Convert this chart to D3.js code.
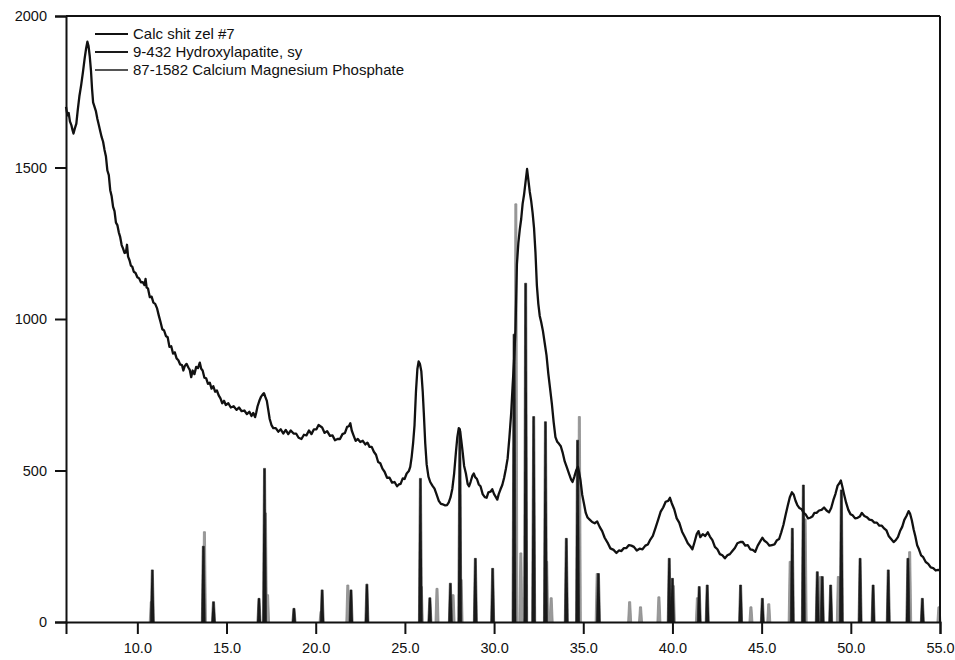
<!DOCTYPE html>
<html>
<head>
<meta charset="utf-8">
<script src="https://cdn.jsdelivr.net/npm/d3@7"></script>
<style>
  html, body { margin: 0; padding: 0; background: #fff; }
  svg { display: block; }
  text { font-family: "Liberation Sans", Arial, sans-serif; fill: #111; }
</style>
</head>
<body>
<svg id="chart" width="955" height="660"></svg>
<script>
// Measured powder pattern: [2-theta (deg), counts]
const scanPattern = [
  [6.00,1700],[6.08,1672],[6.15,1680],[6.22,1652],[6.30,1640],[6.36,1625],[6.42,1612],[6.50,1630],
  [6.58,1645],[6.66,1690],[6.75,1735],[6.85,1772],[6.95,1815],[7.05,1862],[7.12,1890],[7.20,1915],
  [7.26,1902],[7.33,1868],[7.40,1820],[7.46,1760],[7.52,1715],[7.60,1700],[7.68,1685],[7.76,1660],
  [7.84,1640],[7.92,1620],[8.00,1600],[8.08,1585],[8.16,1558],[8.24,1536],[8.32,1490],[8.40,1475],
  [8.48,1425],[8.56,1405],[8.64,1370],[8.72,1356],[8.80,1318],[8.88,1310],[8.96,1286],[9.04,1270],
  [9.12,1244],[9.20,1232],[9.28,1218],[9.36,1220],[9.42,1245],[9.48,1206],[9.56,1194],[9.64,1176],
  [9.72,1172],[9.80,1156],[9.90,1152],[10.00,1138],[10.10,1134],[10.20,1121],[10.30,1122],[10.40,1112],
  [10.46,1132],[10.52,1104],[10.60,1100],[10.70,1072],[10.80,1074],[10.90,1054],[11.00,1050],[11.10,1036],
  [11.20,1012],[11.30,990],[11.40,966],[11.50,962],[11.60,944],[11.70,940],[11.80,908],[11.90,910],
  [12.00,886],[12.10,890],[12.20,870],[12.30,864],[12.40,850],[12.50,848],[12.58,830],[12.66,845],
  [12.76,852],[12.86,840],[12.94,832],[13.02,808],[13.10,830],[13.20,818],[13.30,842],[13.40,838],
  [13.50,856],[13.58,836],[13.66,830],[13.76,806],[13.86,804],[13.96,786],[14.06,790],[14.16,770],
  [14.26,778],[14.36,760],[14.46,764],[14.56,748],[14.66,738],[14.76,722],[14.86,730],[14.96,716],
  [15.10,722],[15.24,708],[15.40,712],[15.56,700],[15.70,708],[15.84,696],[16.00,698],[16.14,686],
  [16.28,694],[16.40,680],[16.50,690],[16.60,676],[16.66,690],[16.74,712],[16.84,730],[16.94,744],
  [17.04,752],[17.10,755],[17.18,742],[17.26,730],[17.34,700],[17.42,670],[17.52,650],[17.62,640],
  [17.76,640],[17.90,628],[18.04,636],[18.18,622],[18.32,634],[18.46,620],[18.60,632],[18.76,622],
  [18.90,622],[19.04,608],[19.20,604],[19.34,618],[19.48,616],[19.62,632],[19.76,620],[19.90,636],
  [20.04,636],[20.16,650],[20.26,646],[20.36,642],[20.50,624],[20.64,630],[20.80,614],[20.94,616],
  [21.08,600],[21.22,604],[21.36,604],[21.50,620],[21.64,624],[21.76,644],[21.86,646],[21.94,656],
  [22.02,632],[22.12,616],[22.24,598],[22.36,604],[22.50,594],[22.64,598],[22.78,586],[22.90,592],
  [23.02,578],[23.14,578],[23.26,562],[23.38,552],[23.50,528],[23.62,524],[23.74,506],[23.86,496],
  [24.00,476],[24.14,476],[24.28,460],[24.42,462],[24.56,448],[24.66,454],[24.76,456],[24.88,474],
  [24.98,472],[25.10,490],[25.22,498],[25.30,512],[25.38,545],[25.46,590],[25.54,650],[25.62,760],
  [25.70,835],[25.77,860],[25.84,852],[25.92,828],[26.00,760],[26.06,690],[26.14,590],[26.22,520],
  [26.32,480],[26.42,462],[26.54,450],[26.66,440],[26.78,420],[26.90,400],[27.02,390],[27.14,388],
  [27.26,385],[27.36,386],[27.46,395],[27.56,412],[27.66,440],[27.76,490],[27.86,560],[27.94,610],
  [28.02,640],[28.08,636],[28.16,600],[28.24,560],[28.32,515],[28.42,490],[28.52,455],[28.60,448],
  [28.68,462],[28.78,482],[28.86,490],[28.94,478],[29.04,472],[29.14,454],[29.24,448],[29.36,422],
  [29.48,412],[29.58,410],[29.68,428],[29.80,430],[29.90,438],[30.00,422],[30.10,412],[30.18,404],
  [30.26,422],[30.36,438],[30.46,452],[30.56,475],[30.66,505],[30.76,540],[30.86,610],[30.96,690],
  [31.04,780],[31.12,860],[31.20,965],[31.28,1180],[31.36,1250],[31.44,1295],[31.52,1330],[31.60,1380],
  [31.68,1410],[31.76,1450],[31.85,1495],[31.92,1460],[32.00,1420],[32.08,1390],[32.16,1350],[32.24,1300],
  [32.32,1220],[32.40,1110],[32.48,1050],[32.56,1010],[32.64,990],[32.74,960],[32.84,920],[32.94,880],
  [33.04,820],[33.14,770],[33.24,720],[33.34,660],[33.44,610],[33.54,595],[33.64,588],[33.74,580],
  [33.84,560],[33.96,530],[34.08,510],[34.20,490],[34.32,470],[34.40,462],[34.50,480],[34.60,500],
  [34.70,512],[34.76,496],[34.84,470],[34.94,420],[35.04,390],[35.14,360],[35.24,345],[35.36,338],
  [35.50,330],[35.64,326],[35.78,332],[35.92,314],[36.06,300],[36.20,278],[36.36,262],[36.52,243],
  [36.70,238],[36.86,228],[37.00,236],[37.14,234],[37.28,244],[37.42,244],[37.56,254],[37.70,252],
  [37.84,248],[38.00,236],[38.16,242],[38.32,240],[38.48,252],[38.62,256],[38.76,272],[38.90,284],
  [39.06,312],[39.20,338],[39.34,364],[39.48,378],[39.62,397],[39.76,400],[39.86,410],[39.96,392],
  [40.10,372],[40.24,342],[40.38,328],[40.54,298],[40.70,280],[40.86,260],[41.00,250],[41.12,240],
  [41.24,264],[41.36,290],[41.46,300],[41.56,280],[41.70,290],[41.84,284],[41.98,296],[42.10,282],
  [42.24,270],[42.38,248],[42.52,240],[42.66,224],[42.80,220],[42.94,210],[43.08,220],[43.22,224],
  [43.36,234],[43.50,244],[43.64,260],[43.80,264],[43.94,264],[44.08,252],[44.22,254],[44.36,240],
  [44.50,238],[44.64,232],[44.78,252],[44.92,266],[45.04,278],[45.16,268],[45.30,262],[45.44,252],
  [45.58,254],[45.72,256],[45.86,270],[45.98,274],[46.10,296],[46.22,320],[46.34,352],[46.46,383],
  [46.58,412],[46.70,428],[46.80,420],[46.90,400],[47.00,386],[47.12,376],[47.24,372],[47.36,360],
  [47.48,354],[47.60,342],[47.72,344],[47.84,348],[47.96,360],[48.08,360],[48.22,368],[48.36,370],
  [48.50,378],[48.64,368],[48.78,362],[48.90,376],[49.02,402],[49.14,423],[49.26,450],[49.36,458],
  [49.44,467],[49.52,448],[49.62,422],[49.74,393],[49.86,370],[49.98,356],[50.10,352],[50.24,342],
  [50.38,344],[50.50,348],[50.62,360],[50.76,350],[50.90,346],[51.04,338],[51.18,336],[51.32,328],
  [51.46,328],[51.60,318],[51.74,318],[51.88,308],[52.00,302],[52.12,284],[52.26,274],[52.40,264],
  [52.52,270],[52.64,280],[52.76,300],[52.88,314],[53.00,337],[53.12,350],[53.24,366],[53.32,358],
  [53.42,336],[53.52,306],[53.62,282],[53.72,253],[53.82,240],[53.94,220],[54.06,214],[54.20,198],
  [54.34,192],[54.48,180],[54.62,178],[54.76,170],[54.90,172],[55.00,170]
];

// Reference card 9-432 Hydroxylapatite: [2-theta, scaled intensity]
const hydroxylapatiteLines = [
  [10.84,172],[13.70,250],[14.27,67],[16.82,78],[17.13,507],[18.78,45],[20.36,106],[21.98,106],
  [22.87,125],[25.87,474],[26.40,80],[27.55,128],[28.08,630],[28.95,210],[29.92,177],[31.12,950],
  [31.77,1118],[32.22,678],[32.88,661],[34.05,276],[34.68,600],[35.85,160],[39.82,210],[40.00,144],
  [41.50,117],[41.95,122],[43.82,122],[45.04,78],[46.72,309],[47.34,452],[48.12,166],[48.40,150],
  [48.87,122],[49.47,436],[50.52,210],[51.25,122],[52.10,172],[53.20,210],[54.01,78]
];

// Reference card 87-1582 Calcium Magnesium Phosphate: [2-theta, scaled intensity]
const calciumMagnesiumPhosphateLines = [
  [10.78,67],[13.76,298],[17.18,360],[17.30,90],[20.30,35],[21.80,122],[25.92,117],[26.80,111],
  [27.70,90],[28.15,140],[31.22,1380],[31.50,228],[32.95,200],[33.20,80],[34.78,678],[35.78,160],
  [37.60,67],[38.21,50],[39.24,83],[40.05,120],[41.40,80],[44.40,50],[45.40,60],[46.60,200],
  [47.44,340],[48.30,150],[49.30,150],[53.30,232],[54.94,50]
];

const legendLabels = [
  "Calc shit zel #7",
  "9-432 Hydroxylapatite, sy",
  "87-1582 Calcium Magnesium Phosphate"
];
const xTickValues = [10, 15, 20, 25, 30, 35, 40, 45, 50, 55];
const yTickValues = [0, 500, 1000, 1500, 2000];

const W = 955, H = 660;
const margin = { top: 16, right: 15, bottom: 38, left: 66 };
const innerW = W - margin.left - margin.right;
const innerH = H - margin.top - margin.bottom;

const svg = d3.select("#chart");
const g = svg.append("g").attr("transform", `translate(${margin.left},${margin.top})`);

const x = d3.scaleLinear().domain([6, 55]).range([0, innerW]);
const y = d3.scaleLinear().domain([0, 2000]).range([innerH, 0]);

// Reference sticks: narrow tapered peaks standing on the baseline
function stickPath(d) {
  const xc = x(d[0]);
  const y0 = y(0), y1 = y(d[1]);
  return `M${xc - 2},${y0}L${xc - 1},${y1}L${xc + 1},${y1}L${xc + 2},${y0}Z`;
}

g.append("g").selectAll("path")
  .data(calciumMagnesiumPhosphateLines)
  .join("path")
  .attr("d", stickPath)
  .attr("fill", "#9a9a9a")
  .attr("stroke", "#8a8a8a")
  .attr("stroke-width", 0.8);

g.append("g").selectAll("path")
  .data(hydroxylapatiteLines)
  .join("path")
  .attr("d", stickPath)
  .attr("fill", "#1a1a1a")
  .attr("stroke", "#1a1a1a")
  .attr("stroke-width", 0.6);

// Measured scan
const line = d3.line().x(d => x(d[0])).y(d => y(d[1]));
g.append("path")
  .datum(scanPattern)
  .attr("d", line)
  .attr("fill", "none")
  .attr("stroke", "#111")
  .attr("stroke-width", 2.3)
  .attr("stroke-linejoin", "round");

// Axes
const yAxis = d3.axisLeft(y).tickValues(yTickValues).tickFormat(d3.format("d"))
  .tickSize(11).tickPadding(8);
const xAxis = d3.axisBottom(x).tickValues(xTickValues).tickFormat(d3.format(".1f"))
  .tickSize(12).tickPadding(9);

const gy = g.append("g").call(yAxis);
const gx = g.append("g").attr("transform", `translate(0,${innerH})`).call(xAxis);

[gx, gy].forEach(ax => {
  ax.select(".domain").attr("stroke", "#111").attr("stroke-width", 2);
  ax.selectAll(".tick line").attr("stroke", "#111").attr("stroke-width", 2);
  ax.selectAll(".tick text").attr("font-size", 14.5).attr("fill", "#111")
    .attr("font-family", "'Liberation Sans', Arial, sans-serif");
});

// Frame: top and right borders
g.append("line").attr("x1", 0).attr("x2", innerW).attr("y1", 0).attr("y2", 0)
  .attr("stroke", "#111").attr("stroke-width", 2);
g.append("line").attr("x1", innerW).attr("x2", innerW).attr("y1", 0).attr("y2", innerH)
  .attr("stroke", "#111").attr("stroke-width", 2);

// Legend
const legendColors = ["#111", "#1a1a1a", "#555"];
const legend = svg.append("g").attr("transform", "translate(95,34)");
legendLabels.forEach((label, i) => {
  const row = legend.append("g").attr("transform", `translate(0,${i * 18})`);
  row.append("line").attr("x1", 0).attr("x2", 33).attr("y1", 0).attr("y2", 0)
    .attr("stroke", legendColors[i]).attr("stroke-width", 2);
  row.append("text").attr("x", 38).attr("y", 0).attr("dy", "0.35em")
    .attr("font-size", 15).text(label);
});
</script>
</body>
</html>
